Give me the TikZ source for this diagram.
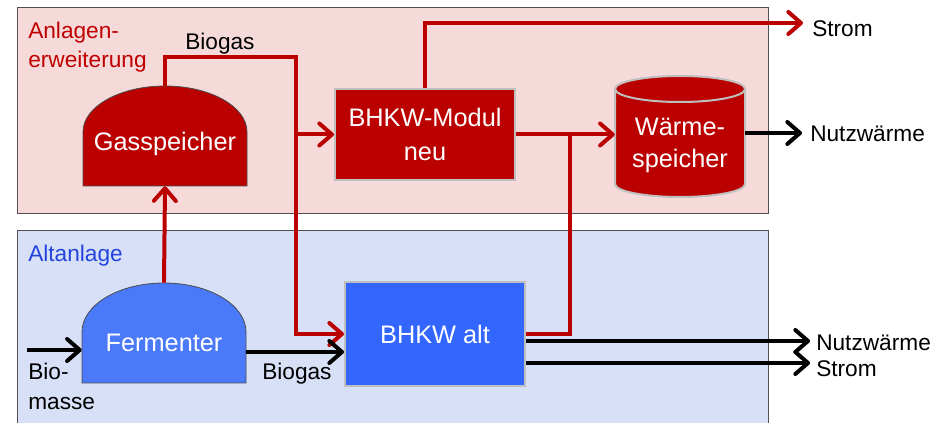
\documentclass[tikz,border=0pt]{standalone}
\usepackage{fontspec}
\setmainfont{Liberation Sans}
\usetikzlibrary{arrows.meta}
\definecolor{dkred}{HTML}{BB0000}
\definecolor{redtxt}{HTML}{C00000}
\definecolor{bluetxt}{HTML}{2244DD}
\definecolor{ferblue}{HTML}{4A7AFA}
\definecolor{altblue}{HTML}{3366FF}
\definecolor{pinkbg}{HTML}{F6DADA}
\definecolor{bluebg}{HTML}{D8E0F8}
\definecolor{boxgray}{HTML}{BFBFBF}
\definecolor{frame}{HTML}{505050}
\begin{document}
\begin{tikzpicture}[x=0.75pt,y=-0.75pt,
  redflow/.style={draw=dkred,line width=3pt},
  blackflow/.style={draw=black,line width=3pt},
  flowtip/.style={-{Straight Barb[length=9.5pt,width=16.5pt,round]}},
  lbl/.style={font=\fontsize{17}{20}\selectfont, inner sep=0, anchor=base west},
  boxtxt/.style={text=white, font=\fontsize{19}{26}\selectfont, align=center},
  block/.style={draw=boxgray, line width=1.5pt, inner sep=0},
  region/.style={draw=frame, line width=0.75pt}]

\useasboundingbox (0,0) rectangle (935,423);

% regions
\fill[pinkbg] (17,8) rectangle (768,214);
\draw[region] (17,8) rectangle (768,214);
\fill[bluebg] (17,231) rectangle (768,423);
\draw[region] (17,423) -- (17,231) -- (768,231) -- (768,423);

% Gasspeicher dome
\filldraw[fill=dkred, draw=black!70, line width=0.6pt]
  (83,186) -- (83,132) .. controls (83,106.6) and (119.7,86) .. (165,86)
  .. controls (210.3,86) and (247,106.6) .. (247,132) -- (247,186) -- cycle;
\node[inner sep=0, minimum width=123pt, minimum height=75pt,
  label={[boxtxt,yshift=-6pt]center:Gasspeicher}] (gas) at (165,136) {};

% Fermenter dome
\filldraw[fill=ferblue, draw=black!70, line width=0.6pt]
  (82,383) -- (82,332) .. controls (82,304.9) and (118.7,283) .. (164,283)
  .. controls (209.3,283) and (246,304.9) .. (246,332) -- (246,383) -- cycle;
\node[inner sep=0, minimum width=123pt, minimum height=75pt,
  label={[boxtxt,yshift=-7.5pt]center:Fermenter}] (fer) at (164,333) {};

% BHKW blocks
\node[block, fill=dkred, minimum width=135pt, minimum height=68pt, boxtxt] (mod) at (425,134.5) {BHKW-Modul\\neu};
\node[block, fill=altblue, minimum width=135pt, minimum height=78pt, boxtxt] (alt) at (435,334) {BHKW alt};

% Waermespeicher cylinder
\filldraw[fill=dkred, draw=boxgray, line width=1.5pt]
  (615,89) -- (615,184) .. controls (615,191.2) and (644.1,197) .. (680,197)
  .. controls (715.9,197) and (745,191.2) .. (745,184) -- (745,89)
  .. controls (745,81.8) and (715.9,76) .. (680,76)
  .. controls (644.1,76) and (615,81.8) .. (615,89) -- cycle;
\draw[boxgray, line width=1.5pt] (615,89) .. controls (615,96.2) and (644.1,102) .. (680,102)
  .. controls (715.9,102) and (745,96.2) .. (745,89);
\node[inner sep=0, minimum width=97.5pt, minimum height=90.75pt,
  label={[boxtxt,font=\fontsize{19}{24}\selectfont,yshift=-7pt]center:Wärme-\\speicher}] (ws) at (680,136.5) {};

% red connectors
\coordinate (j1) at (296,57);
\draw[redflow, flowtip] (gas.north) |- (j1) |- (alt.west);
\draw[redflow, flowtip] (j1 |- mod.west) -- (mod.west);
\draw[redflow, flowtip] (fer.north) -- (gas.south);
\coordinate (s1) at (803,23);
\draw[redflow, flowtip] (mod.north) |- (s1);
\draw[redflow, flowtip] (mod.east) -- (mod.east -| ws.west);
\coordinate (j2) at (570,0);
\draw[redflow] (alt.east) -| (j2 |- mod.east);

% black connectors
\coordinate (bm) at (27,350);
\draw[blackflow, flowtip] (bm) -- (bm -| fer.west);
\coordinate (yb) at (0,352);
\draw[blackflow, flowtip] (fer.east |- yb) -- (alt.west |- yb);
\coordinate (nw1) at (802,133);
\draw[blackflow, flowtip] (ws.east |- nw1) -- (nw1);
\coordinate (nw2) at (810,341);
\draw[blackflow, flowtip] (alt.east |- nw2) -- (nw2);
\coordinate (st2) at (810,363);
\draw[blackflow, flowtip] (alt.east |- st2) -- (st2);

% labels
\node[lbl] (strom1) at (812,37) {Strom};
\node[lbl] (nutz1) at (810,142) {Nutzwärme};
\node[lbl] (nutz2) at (816,351) {Nutzwärme};
\node[lbl] (strom2) at (816,377) {Strom};
\node[lbl] (biog1) at (185,50) {Biogas};
\node[lbl, text=redtxt] (anl1) at (28,39) {Anlagen-};
\node[lbl, text=redtxt] (anl2) at (28,68) {erweiterung};
\node[lbl, text=bluetxt] (alta) at (28,262) {Altanlage};
\node[lbl] (bio1) at (28,380) {Bio-};
\node[lbl] (bio2) at (28,410) {masse};
\node[lbl] (biog2) at (262,380) {Biogas};
\end{tikzpicture}
\end{document}
